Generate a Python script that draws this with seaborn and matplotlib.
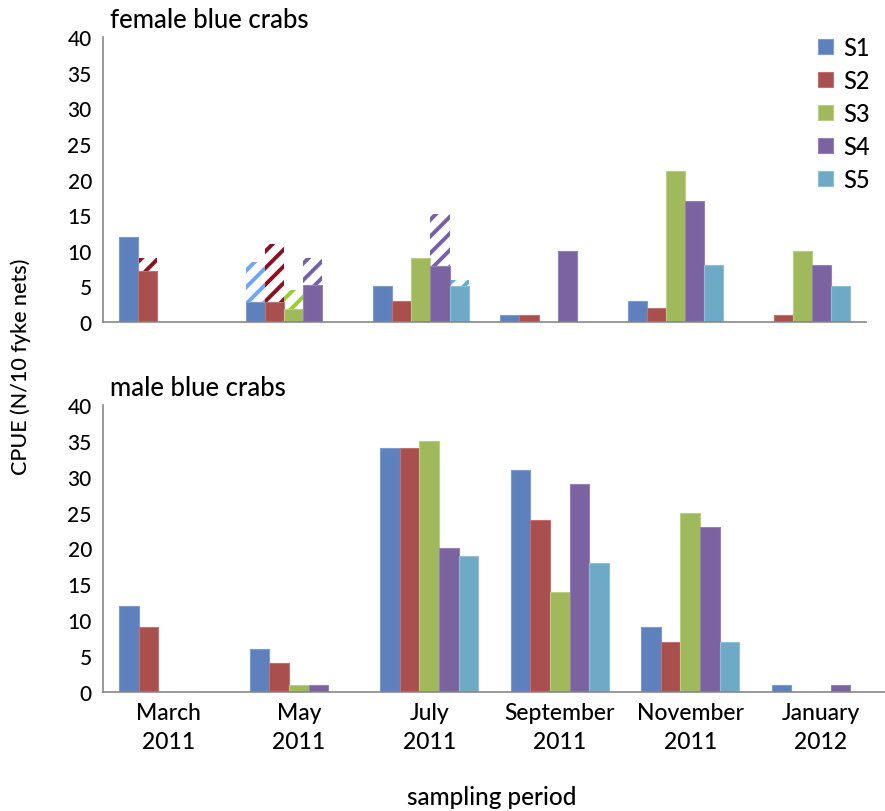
import numpy as np
import pandas as pd
import matplotlib
matplotlib.use("Agg")
import matplotlib.pyplot as plt
from matplotlib.patches import Patch
import seaborn as sns

# Sampling periods and sites
periods = ["March\n2011", "May\n2011", "July\n2011", "September\n2011",
           "November\n2011", "January\n2012"]
sites = ["S1", "S2", "S3", "S4", "S5"]

# Female CPUE: solid part and total (solid + hatched part)
female_solid = {
    "S1": [12, 2.8, 5, 1, 3, 0],
    "S2": [7.2, 2.8, 3, 1, 2, 1],
    "S3": [0, 1.8, 9, 0, 21.2, 10],
    "S4": [0, 5.2, 7.8, 10, 17, 8],
    "S5": [0, 0, 5, 0, 8, 5],
}
female_total = {
    "S1": [12, 8.4, 5, 1, 3, 0],
    "S2": [9, 11, 3, 1, 2, 1],
    "S3": [0, 4.5, 9, 0, 21.2, 10],
    "S4": [0, 9, 15.2, 10, 17, 8],
    "S5": [0, 0, 5.9, 0, 8, 5],
}

# Male CPUE
male = {
    "S1": [12, 6, 34, 31, 9, 1],
    "S2": [9, 4, 34, 24, 7, 0],
    "S3": [0, 1, 35, 14, 25, 0],
    "S4": [0, 1, 20, 29, 23, 1],
    "S5": [0, 0, 19, 18, 7, 0],
}

site_colors = ["#5E80BC", "#A9504E", "#A0B95C", "#7A63A0", "#6EA9C6"]
edge_colors = ["#7C9CD0", "#C07270", "#B8CE80", "#9580B8", "#8EC0D8"]
hatch_colors = ["#6EA6FF", "#8E1020", "#9ACD32", "#7760A8", "#5AB0D0"]


def long_form(table):
    rows = []
    for s in sites:
        for p, v in zip(periods, table[s]):
            rows.append({"period": p, "site": s, "value": v})
    return pd.DataFrame(rows)


sns.set_style("white")
plt.rcParams["font.family"] = ["Lato", "DejaVu Sans"]
plt.rcParams["font.weight"] = "medium"
plt.rcParams["text.color"] = "black"
plt.rcParams["xtick.color"] = "black"
plt.rcParams["ytick.color"] = "black"
plt.rcParams["hatch.linewidth"] = 2.8

fig = plt.figure(figsize=(8.85, 8.12), dpi=100)
ax_top = fig.add_axes([0.1164, 0.6022, 0.8621, 0.3510])
ax_bot = fig.add_axes([0.1164, 0.1466, 0.8847, 0.3534])

bar_kw = dict(x="period", y="value", hue="site", order=periods,
              hue_order=sites, width=0.75, gap=0, errorbar=None,
              legend=False, saturation=1)

# Hatched totals underneath the solid female bars
sns.barplot(data=long_form(female_total), ax=ax_top,
            palette=["white"] * 5, **bar_kw)
for cont, hc in zip(ax_top.containers, hatch_colors):
    for bar in cont:
        bar.set_hatch("//")
        bar.set_edgecolor(hc)
        bar.set_linewidth(0)
n_hatched = len(ax_top.containers)

sns.barplot(data=long_form(female_solid), ax=ax_top,
            palette=site_colors, **bar_kw)
for cont, ec in zip(ax_top.containers[n_hatched:], edge_colors):
    for bar in cont:
        bar.set_edgecolor(ec)
        bar.set_linewidth(0.8)

sns.barplot(data=long_form(male), ax=ax_bot, palette=site_colors, **bar_kw)
for cont, ec in zip(ax_bot.containers, edge_colors):
    for bar in cont:
        bar.set_edgecolor(ec)
        bar.set_linewidth(0.8)

for ax, show_labels in ((ax_top, False), (ax_bot, True)):
    ax.set_xlim(-0.5, 5.5)
    ax.set_ylim(0, 40)
    ax.set_yticks(np.arange(0, 41, 5))
    ax.set_xticks(np.arange(-0.5, 6.0, 1.0))
    ax.set_xticklabels([])
    ax.set_xticks(np.arange(6), minor=True)
    if show_labels:
        ax.set_xticklabels(periods, minor=True, fontsize=16.5,
                           linespacing=1.5)
    ax.tick_params(axis="x", which="major", direction="out", length=6,
                   width=1, color="#888888")
    ax.tick_params(axis="x", which="minor", length=0, pad=7)
    ax.tick_params(axis="y", direction="out", length=5, width=1,
                   color="#888888", labelsize=15, pad=3)
    ax.set_xlabel("")
    ax.set_ylabel("")
    for side in ("top", "right"):
        ax.spines[side].set_visible(False)
    for side in ("left", "bottom"):
        ax.spines[side].set_color("#888888")
        ax.spines[side].set_linewidth(1.2)

fig.text(0.124, 0.975, "female blue crabs", fontsize=18.5, va="center",
         ha="left")
fig.text(0.124, 0.522, "male blue crabs", fontsize=18.5, va="center",
         ha="left")
fig.text(0.023, 0.548, "CPUE (N/10 fyke nets)", fontsize=15.5, rotation=90,
         va="center", ha="center")
fig.text(0.556, 0.018, "sampling period", fontsize=17.5, va="center",
         ha="center")

handles = [Patch(facecolor=c, edgecolor=e, linewidth=0.8)
           for c, e in zip(site_colors, edge_colors)]
fig.legend(handles, sites, loc="upper left", bbox_to_anchor=(0.914, 0.966),
           frameon=False, fontsize=17, handlelength=0.6, handleheight=0.6,
           handletextpad=0.45, labelspacing=0.42, borderaxespad=0)

fig.savefig("out.png", dpi=100)
